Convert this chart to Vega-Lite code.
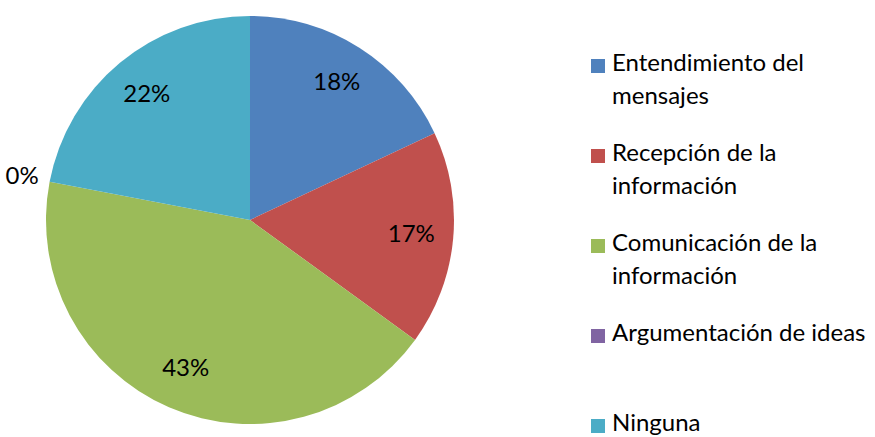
{
  "$schema": "https://vega.github.io/schema/vega-lite/v6.json",
  "autosize": "none",
  "padding": {"left": 0, "top": 0, "right": 375, "bottom": 0},
  "width": 500,
  "height": 440,
  "background": "white",
  "config": {
    "view": {"stroke": null},
    "font": "Lato",
    "style": {"guide-label": {"lineHeight": 33, "dy": -14}}
  },
  "data": {
    "values": [
      {"categoria": "Entendimiento del mensajes", "pct": 0.18, "orden": 1},
      {"categoria": "Recepción de la información", "pct": 0.17, "orden": 2},
      {"categoria": "Comunicación de la información", "pct": 0.43, "orden": 3},
      {"categoria": "Argumentación de ideas", "pct": 0.0, "orden": 4},
      {"categoria": "Ninguna", "pct": 0.22, "orden": 5}
    ]
  },
  "encoding": {
    "theta": {"field": "pct", "type": "quantitative", "stack": true},
    "order": {"field": "orden", "type": "quantitative"},
    "color": {
      "field": "categoria",
      "type": "nominal",
      "scale": {
        "domain": ["Entendimiento del mensajes", "Recepción de la información", "Comunicación de la información", "Argumentación de ideas", "Ninguna"],
        "range": ["#4F81BD", "#C0504D", "#9BBB59", "#8064A2", "#4BACC6"]
      },
      "legend": {
        "title": null,
        "orient": "none",
        "legendX": 586,
        "legendY": 54,
        "symbolType": "square",
        "symbolSize": 196,
        "symbolStrokeWidth": 0,
        "symbolOpacity": 1,
        "labelFont": "Lato",
        "labelFontSize": 24,
        "labelColor": "#000000",
        "labelLimit": 300,
        "labelOffset": 2,
        "labelBaseline": "top",
        "rowPadding": 33,
        "labelExpr": "datum.label == 'Entendimiento del mensajes' ? ['Entendimiento del', 'mensajes'] : datum.label == 'Recepción de la información' ? ['Recepción de la', 'información'] : datum.label == 'Comunicación de la información' ? ['Comunicación de la', 'información'] : [datum.label, '']"
      }
    }
  },
  "layer": [
    {"mark": {"type": "arc", "outerRadius": 204, "stroke": null}},
    {
      "mark": {"type": "text", "radius": 162, "fontSize": 24, "font": "Lato", "color": "#000000"},
      "encoding": {
        "text": {"field": "pct", "type": "quantitative", "format": ".0%"},
        "color": {"value": "#000000"},
        "opacity": {"condition": {"test": "datum.pct > 0", "value": 1}, "value": 0}
      }
    },
    {
      "mark": {"type": "text", "radius": 232, "fontSize": 24, "font": "Lato", "color": "#000000"},
      "encoding": {
        "text": {"field": "pct", "type": "quantitative", "format": ".0%"},
        "color": {"value": "#000000"},
        "opacity": {"condition": {"test": "datum.pct == 0", "value": 1}, "value": 0}
      }
    }
  ]
}
